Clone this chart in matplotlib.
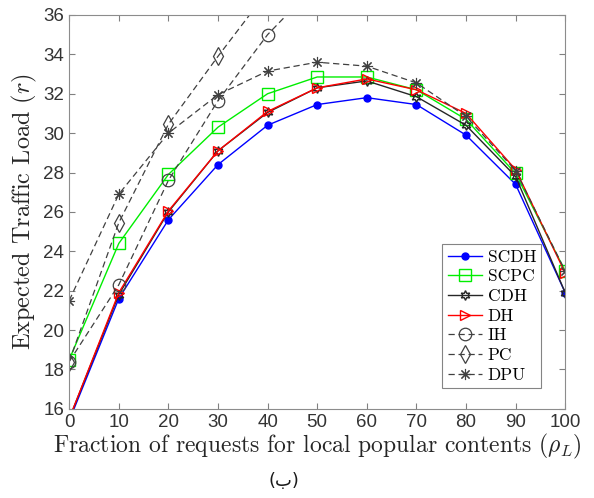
import matplotlib
matplotlib.use('Agg')
import matplotlib.pyplot as plt
import numpy as np

plt.rcParams['mathtext.fontset'] = 'cm'

# fraction of requests for local popular contents (%)
rho = [0, 10, 20, 30, 40, 50, 60, 70, 80, 90, 100]

scdh = [15.4, 21.6, 25.6, 28.4, 30.4, 31.45, 31.8, 31.45, 29.9, 27.4, 21.9]
scpc = [18.5, 24.4, 27.9, 30.3, 32.0, 32.85, 32.85, 32.2, 30.7, 27.95, 23.0]
cdh = [15.5, 21.8, 26.0, 29.1, 31.05, 32.3, 32.65, 31.85, 30.4, 27.8, 21.9]
dh = [15.5, 21.9, 26.05, 29.1, 31.1, 32.3, 32.75, 32.2, 31.0, 28.15, 22.9]
dpu = [21.5, 26.9, 30.0, 31.95, 33.15, 33.6, 33.4, 32.55, 30.85, 28.1, 23.0]
# IH and PC leave the plotted range; only the visible part is kept
rho_ih = [0, 10, 20, 30, 40, 50]
ih = [18.4, 22.3, 27.6, 31.65, 35.0, 37.6]
rho_pc = [0, 10, 20, 30, 40]
pc = [18.4, 25.45, 30.45, 33.9, 37.2]

fig = plt.figure(figsize=(5.94, 4.98), dpi=100)
ax = fig.add_axes([0.1165, 0.179, 0.835, 0.791])

dash = (0, (5, 3))
dcol = '0.25'
ax.plot(rho, scdh, color='#0000ff', lw=1, marker='o', ms=5, mfc='#0000ff', label='SCDH')
ax.plot(rho, scpc, color='#00ee00', lw=1, marker='s', ms=8, mfc='none', label='SCPC')
ax.plot(rho, cdh, color='0.15', lw=1, marker=(6, 1, 0), ms=7, mfc='none', label='CDH')
ax.plot(rho, dh, color='#ff0000', lw=1, marker='>', ms=7, mfc='none', label='DH')
ax.plot(rho_ih, ih, color=dcol, lw=0.9, ls=dash, marker='o', ms=9, mfc='none', mew=0.9, label='IH')
ax.plot(rho_pc, pc, color=dcol, lw=0.9, ls=dash, marker='d', ms=9, mfc='none', mew=0.9, label='PC')
ax.plot(rho, dpu, color=dcol, lw=0.9, ls=dash, marker=(8, 2, 0), ms=8, mew=0.8, label='DPU')

ax.set_xlim(0, 100)
ax.set_ylim(16, 36)
ax.set_xticks(np.arange(0, 101, 10))
ax.set_yticks(np.arange(16, 37, 2))
ax.tick_params(direction='in', top=True, right=True, labelsize=13.5, colors='0.5',
               labelcolor='0.2', length=4)
for lab in ax.get_xticklabels() + ax.get_yticklabels():
    lab.set_fontfamily('Liberation Sans')
for s in ax.spines.values():
    s.set_color('0.55')

ax.set_xlabel(r'Fraction of requests for local popular contents $(\rho_L)$',
              fontsize=17, fontfamily='cmr10', color='0.15', labelpad=1)
ax.set_ylabel(r'Expected Traffic Load $(r)$', fontsize=17.5, fontfamily='cmr10',
              color='0.15', labelpad=3)

leg = ax.legend(loc='lower right', bbox_to_anchor=(0.952, 0.053), fancybox=False,
                edgecolor='0.4', handlelength=2.0, handletextpad=0.3,
                borderpad=0.3, labelspacing=0.25, borderaxespad=0,
                prop={'family': 'cmr10', 'size': 12.5})
leg.get_frame().set_linewidth(0.8)

fig.text(0.478, 0.034, '(ب)', ha='center', va='center', fontsize=13, color='0.1')

fig.savefig('out.png', dpi=100)
